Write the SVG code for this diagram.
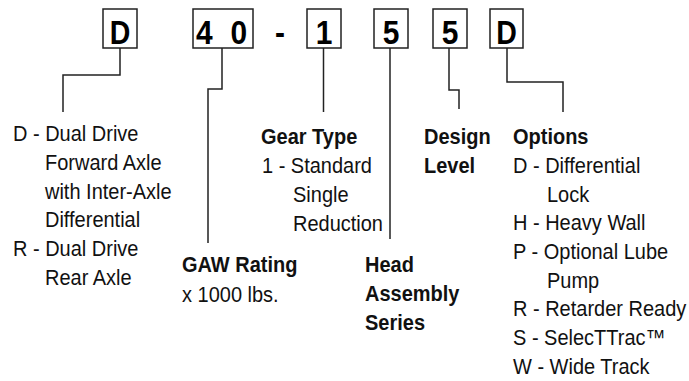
<svg xmlns="http://www.w3.org/2000/svg" width="689" height="381" viewBox="0 0 689 381">
<style>
.box{fill:#fff;stroke:#222;stroke-width:1.5}
.code{font-family:"Liberation Sans",Arial,sans-serif;font-weight:bold;font-size:34px;fill:#000;text-anchor:middle}
.t{font-family:"Liberation Sans",Arial,sans-serif;font-size:21.5px;fill:#111}
.b{font-family:"Liberation Sans",Arial,sans-serif;font-size:21.5px;font-weight:bold;fill:#111}
.conn{fill:none;stroke:#222;stroke-width:1.5}
</style>
<rect width="689" height="381" fill="#fff"/>
<g id="box-d1"><rect class="box" x="103" y="9" width="34" height="39"/><text class="code" transform="translate(120 44) scale(.84 1)">D</text></g>
<g id="box-40"><rect class="box" x="193" y="9" width="60" height="39"/><text class="code" transform="translate(223 44) scale(.88 1)"><tspan x="-16.5">4</tspan> <tspan x="18">0</tspan></text></g>
<g id="dash"><text class="code" transform="translate(280 44) scale(.88 1)">-</text></g>
<g id="box-1"><rect class="box" x="307" y="9" width="34" height="39"/><text class="code" transform="translate(324 44) scale(.88 1)">1</text></g>
<g id="box-5a"><rect class="box" x="374" y="9" width="34" height="39"/><text class="code" transform="translate(391 44) scale(.88 1)">5</text></g>
<g id="box-5b"><rect class="box" x="433" y="9" width="34" height="39"/><text class="code" transform="translate(450 44) scale(.88 1)">5</text></g>
<g id="box-d2"><rect class="box" x="490" y="9" width="33" height="39"/><text class="code" transform="translate(506.5 44) scale(.84 1)">D</text></g>
<g id="connectors">
<path class="conn" d="M120 48V75H63V112"/>
<path class="conn" d="M222 48V89H208V243"/>
<path class="conn" d="M323.5 48V112"/>
<path class="conn" d="M390 48V239"/>
<path class="conn" d="M449 48V90H459V109"/>
<path class="conn" d="M507 48V82H563V112"/>
</g>
<g id="label-drive">
<text class="t" transform="translate(13 141) scale(.93 1)">D - Dual Drive</text>
<text class="t" transform="translate(45 170) scale(.93 1)">Forward Axle</text>
<text class="t" transform="translate(45 198.5) scale(.93 1)">with Inter-Axle</text>
<text class="t" transform="translate(45 227) scale(.93 1)">Differential</text>
<text class="t" transform="translate(13 256) scale(.93 1)">R - Dual Drive</text>
<text class="t" transform="translate(45 285) scale(.93 1)">Rear Axle</text>
</g>
<g id="label-gaw">
<text class="b" transform="translate(182 272) scale(.93 1)">GAW Rating</text>
<text class="t" transform="translate(182 302) scale(.93 1)">x 1000 lbs.</text>
</g>
<g id="label-gear">
<text class="b" transform="translate(261 144) scale(.93 1)">Gear Type</text>
<text class="t" transform="translate(262 173) scale(.93 1)">1 - Standard</text>
<text class="t" transform="translate(293 202) scale(.93 1)">Single</text>
<text class="t" transform="translate(293 231) scale(.93 1)">Reduction</text>
</g>
<g id="label-head">
<text class="b" transform="translate(365 272) scale(.93 1)">Head</text>
<text class="b" transform="translate(365 301) scale(.93 1)">Assembly</text>
<text class="b" transform="translate(365 330) scale(.93 1)">Series</text>
</g>
<g id="label-design">
<text class="b" transform="translate(424 144) scale(.93 1)">Design</text>
<text class="b" transform="translate(424 173) scale(.93 1)">Level</text>
</g>
<g id="label-options">
<text class="b" transform="translate(513 144) scale(.93 1)">Options</text>
<text class="t" transform="translate(513 173) scale(.93 1)">D - Differential</text>
<text class="t" transform="translate(547 202) scale(.93 1)">Lock</text>
<text class="t" transform="translate(513 230) scale(.93 1)">H - Heavy Wall</text>
<text class="t" transform="translate(513 259) scale(.93 1)">P - Optional Lube</text>
<text class="t" transform="translate(547 288) scale(.93 1)">Pump</text>
<text class="t" transform="translate(513 316) scale(.93 1)">R - Retarder Ready</text>
<text class="t" transform="translate(513 345) scale(.93 1)">S - SelecTTrac™</text>
<text class="t" transform="translate(513 374) scale(.93 1)">W - Wide Track</text>
</g>
</svg>
